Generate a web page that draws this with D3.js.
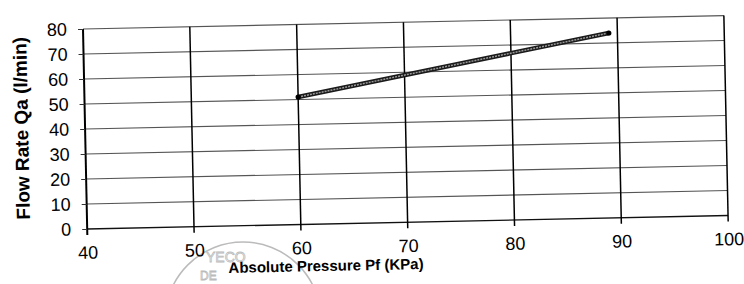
<!DOCTYPE html>
<html>
<head>
<meta charset="utf-8">
<script src="https://cdn.jsdelivr.net/npm/d3@7"></script>
<style>
  body { margin: 0; background: #fff; }
  text { font-family: "Liberation Sans", Arial, sans-serif; }
</style>
</head>
<body>
<script>
var width = 744;
var height = 284;
var plotW = 641;
var plotH = 200;

// data
var pressure = [60, 89.2];
var flowRate = [51, 74];
var xTicks = [40, 50, 60, 70, 80, 90, 100];
var yTicks = [0, 10, 20, 30, 40, 50, 60, 70, 80];
var xTitle = 'Absolute Pressure Pf (KPa)';
var yTitle = 'Flow Rate Qa (l/min)';

var svg = d3.select('body').append('svg')
  .attr('width', width).attr('height', height);

// faint stamp left on the scanned page
var stamp = svg.append('g').attr('fill', 'none').attr('stroke', '#bbb');
stamp.append('circle').attr('cx', 243).attr('cy', 320).attr('r', 78)
  .attr('stroke-width', 1.5);
stamp.append('text').attr('x', 206).attr('y', 262).attr('font-size', 14)
  .attr('stroke-width', 0.8).text('YECO');
stamp.append('text').attr('x', 200).attr('y', 280).attr('font-size', 12)
  .attr('stroke-width', 0.8).text('DE');

// the whole page is scanned slightly tilted
var g = svg.append('g').attr('transform', 'translate(83,29) rotate(-1.2)');

var x = d3.scaleLinear().domain([40, 100]).range([0, plotW]);
var y = d3.scaleLinear().domain([0, 80]).range([plotH, 0]);

// horizontal grid lines
g.selectAll('.hgrid').data(yTicks).enter().append('line')
  .attr('class', 'hgrid')
  .attr('x1', 0).attr('x2', plotW)
  .attr('y1', function(d) { return y(d); })
  .attr('y2', function(d) { return y(d); })
  .attr('stroke', function(d) { return d === 0 ? '#111' : '#555'; })
  .attr('stroke-width', function(d) { return d === 0 ? 1.4 : 1.1; });

// vertical grid lines, they poke below the axis
g.selectAll('.vgrid').data(xTicks).enter().append('line')
  .attr('class', 'vgrid')
  .attr('x1', function(d) { return x(d); })
  .attr('x2', function(d) { return x(d); })
  .attr('y1', 0).attr('y2', plotH + 6)
  .attr('stroke', '#000')
  .attr('stroke-width', function(d) { return d === 40 ? 2 : 1.5; });

var yAxis = d3.axisLeft(y).tickValues(yTicks).tickSize(5).tickPadding(11);
var xAxis = d3.axisBottom(x).tickValues(xTicks).tickSize(0).tickPadding(17);

var ya = g.append('g').call(yAxis);
var xa = g.append('g').attr('transform', 'translate(0,' + plotH + ')').call(xAxis);

[ya, xa].forEach(function(a) {
  a.select('.domain').remove();
  a.selectAll('line').attr('stroke', '#333');
  a.selectAll('text').attr('font-size', 18).attr('fill', '#000')
    .attr('font-family', '"Liberation Sans", Arial, sans-serif');
});

// data line, dark edges with a grey core like the print
var pts = pressure.map(function(p, i) { return [x(p), y(flowRate[i])]; });
var line = d3.line();
g.append('path').attr('d', line(pts)).attr('fill', 'none')
  .attr('stroke', '#1a1a1a').attr('stroke-width', 4.5);
g.append('path').attr('d', line(pts)).attr('fill', 'none')
  .attr('stroke', '#9a9a9a').attr('stroke-width', 1.5)
  .attr('stroke-dasharray', '2,1');
g.selectAll('.end').data(pts).enter().append('circle')
  .attr('cx', function(d) { return d[0]; })
  .attr('cy', function(d) { return d[1]; })
  .attr('r', 2.6).attr('fill', '#000');

g.append('text').attr('x', 238).attr('y', plotH + 47)
  .attr('text-anchor', 'middle').attr('font-size', 15)
  .attr('font-weight', 'bold').text(xTitle);

g.append('text')
  .attr('transform', 'translate(-57,' + 98 + ') rotate(-90)')
  .attr('text-anchor', 'middle').attr('font-size', 19)
  .attr('font-weight', 'bold').text(yTitle);
</script>
</body>
</html>
